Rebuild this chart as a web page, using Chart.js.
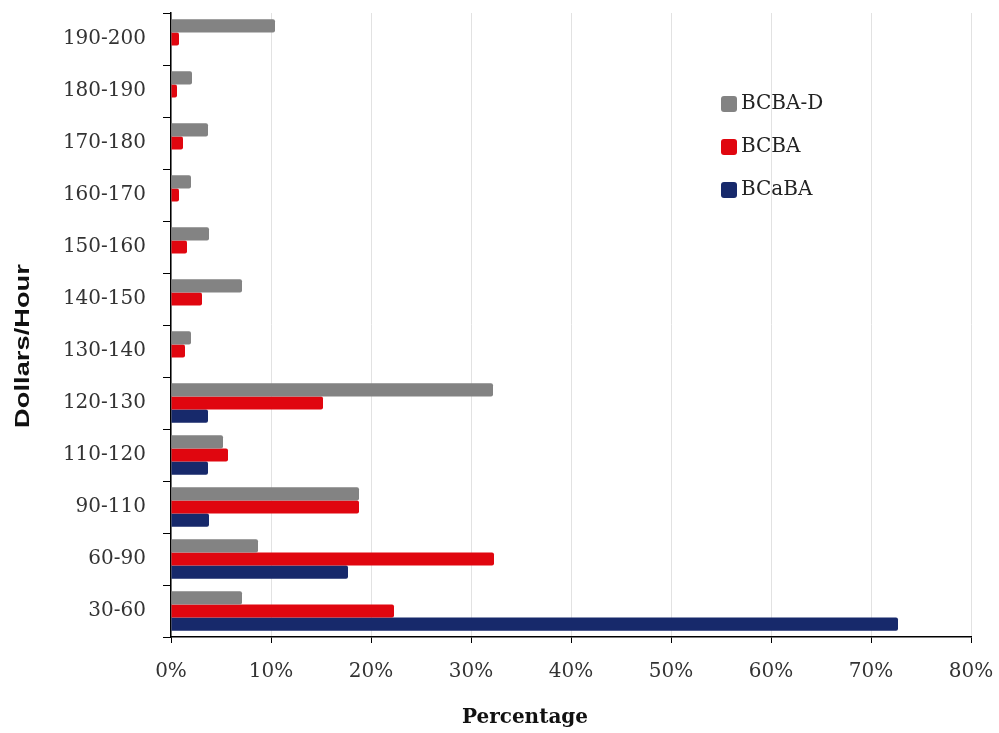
<!DOCTYPE html>
<html>
<head>
<meta charset="utf-8">
<script src="https://cdn.jsdelivr.net/npm/chart.js@4.4.0/dist/chart.umd.min.js"></script>
<style>
  html, body { margin: 0; padding: 0; background: #fff; }
  #wrap { width: 999px; height: 733px; position: relative; }
</style>
</head>
<body>
<div id="wrap"><canvas id="rates"></canvas></div>
<script>
// Hourly rate bands, listed top to bottom
const rateBands = [
  "190-200", "180-190", "170-180", "160-170", "150-160", "140-150",
  "130-140", "120-130", "110-120", "90-110", "60-90", "30-60",
];

// Share of respondents (%) in each band, per credential
const bcbaD = [10.4, 2.1, 3.7, 2.0, 3.8, 7.1, 2.0, 32.2, 5.2, 18.8, 8.7, 7.1];
const bcba = [0.8, 0.6, 1.2, 0.8, 1.6, 3.1, 1.4, 15.2, 5.7, 18.8, 32.3, 22.3];
const bcaba = [0, 0, 0, 0, 0, 0, 0, 3.7, 3.7, 3.8, 17.7, 72.7];

const seriesNames = ["BCBA-D", "BCBA", "BCaBA"];
const seriesColors = ["#838383", "#e0060f", "#17296b"];

const serif = '"DejaVu Serif", "Liberation Serif", serif';

// Legend and axis titles drawn straight onto the canvas
const extras = {
  id: "extras",
  afterDraw(chart) {
    const ctx = chart.ctx;
    const area = chart.chartArea;
    ctx.save();

    // legend, upper right of the plot
    ctx.font = "20px " + serif;
    ctx.textBaseline = "middle";
    ctx.textAlign = "left";
    chart.data.datasets.forEach((ds, i) => {
      const y = area.top + 91 + i * 43;
      ctx.fillStyle = ds.backgroundColor;
      ctx.beginPath();
      ctx.roundRect(area.left + 550, y - 8, 16, 16, 3);
      ctx.fill();
      ctx.fillStyle = "#222";
      ctx.fillText(ds.label, area.left + 570, y);
    });

    // x title
    ctx.font = "bold 20px " + serif;
    ctx.textAlign = "center";
    ctx.fillStyle = "#111";
    ctx.fillText("Percentage", 525, 718);

    // y title, rotated
    ctx.translate(23, 346);
    ctx.rotate(-Math.PI / 2);
    ctx.scale(1.3, 1);
    ctx.font = 'bold 21px "Liberation Sans Narrow", "Liberation Sans", Arial, sans-serif';
    ctx.fillText("Dollars/Hour", 0, 0);

    ctx.restore();
  },
};

new Chart(document.getElementById("rates"), {
  type: "bar",
  plugins: [extras],
  data: {
    labels: rateBands,
    datasets: [
      { label: seriesNames[0], data: bcbaD, backgroundColor: seriesColors[0] },
      { label: seriesNames[1], data: bcba, backgroundColor: seriesColors[1] },
      { label: seriesNames[2], data: bcaba, backgroundColor: seriesColors[2] },
    ],
  },
  options: {
    indexAxis: "y",
    responsive: true,
    maintainAspectRatio: false,
    animation: false,
    layout: { padding: { top: 13, right: 28, left: 0, bottom: 0 } },
    datasets: {
      bar: { categoryPercentage: 0.76, barPercentage: 1.0, borderRadius: 2, borderSkipped: "left" },
    },
    plugins: {
      legend: { display: false },
      tooltip: { enabled: false },
    },
    scales: {
      x: {
        min: 0,
        max: 80,
        afterFit: (scale) => {
          scale.height = 96;
          scale.paddingLeft = 0;
          scale.paddingRight = 0;
        },
        ticks: {
          stepSize: 10,
          padding: 17,
          color: "#333",
          font: { family: serif, size: 20 },
          callback: (v) => v + "%",
        },
        grid: { color: "#e2e2e2", tickColor: "#000", tickLength: 6, lineWidth: 1 },
        border: { color: "#000", width: 1.5 },
      },
      y: {
        afterFit: (scale) => {
          scale.width = 171;
          scale.paddingTop = 0;
          scale.paddingBottom = 0;
        },
        ticks: {
          padding: 17,
          color: "#333",
          font: { family: serif, size: 20 },
        },
        grid: { drawOnChartArea: false, tickColor: "#000", tickLength: 8 },
        border: { color: "#000", width: 1.5 },
      },
    },
  },
});
</script>
</body>
</html>
